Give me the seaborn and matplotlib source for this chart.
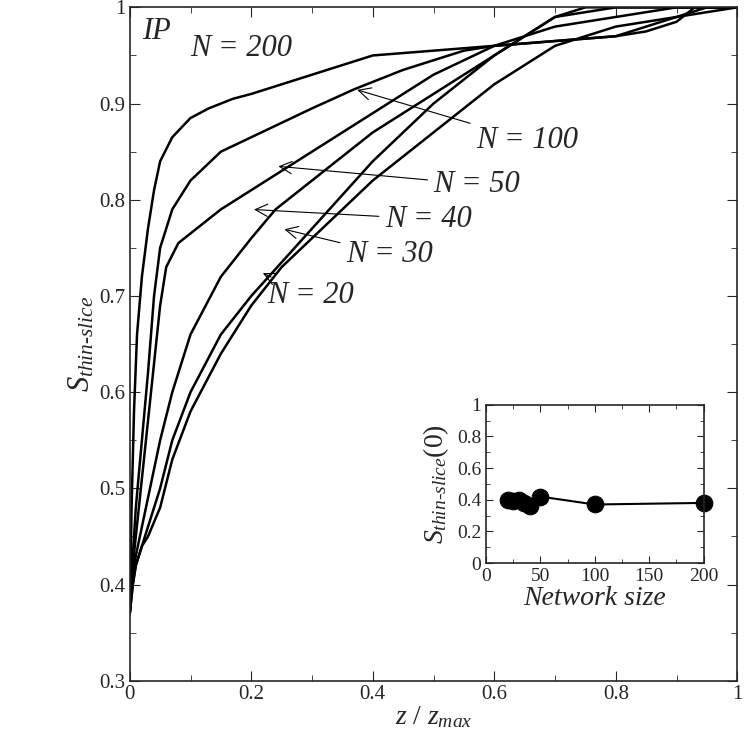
import matplotlib
matplotlib.use("Agg")
import matplotlib.pyplot as plt
import seaborn as sns
from matplotlib.ticker import AutoMinorLocator

# curves: x = z/zmax, y = S_thin-slice
x200 = [0, 0.003, 0.007, 0.012, 0.02, 0.03, 0.04, 0.05, 0.07, 0.1, 0.13, 0.17, 0.2, 0.25, 0.3, 0.35, 0.4, 0.5, 0.6, 0.7, 0.8, 0.85, 0.9, 0.93, 1.0]
y200 = [0.37, 0.48, 0.58, 0.66, 0.72, 0.77, 0.81, 0.84, 0.865, 0.885, 0.895, 0.905, 0.91, 0.92, 0.93, 0.94, 0.95, 0.955, 0.96, 0.965, 0.97, 0.975, 0.985, 1.0, 1.0]
x100 = [0, 0.005, 0.01, 0.02, 0.03, 0.04, 0.05, 0.07, 0.1, 0.15, 0.2, 0.25, 0.3, 0.37, 0.45, 0.5, 0.55, 0.6, 0.7, 0.8, 0.9, 0.95, 1.0]
y100 = [0.37, 0.43, 0.48, 0.55, 0.62, 0.7, 0.75, 0.79, 0.82, 0.85, 0.865, 0.88, 0.895, 0.915, 0.935, 0.945, 0.955, 0.96, 0.965, 0.97, 0.99, 1.0, 1.0]
x50 = [0, 0.005, 0.01, 0.02, 0.03, 0.04, 0.05, 0.06, 0.08, 0.1, 0.15, 0.2, 0.25, 0.3, 0.4, 0.5, 0.6, 0.7, 0.8, 0.9, 1.0]
y50 = [0.37, 0.42, 0.45, 0.51, 0.57, 0.63, 0.69, 0.73, 0.755, 0.765, 0.79, 0.81, 0.83, 0.85, 0.89, 0.93, 0.96, 0.98, 0.99, 1.0, 1.0]
x40 = [0, 0.005, 0.01, 0.02, 0.03, 0.05, 0.07, 0.1, 0.15, 0.2, 0.24, 0.3, 0.4, 0.5, 0.6, 0.7, 0.75, 1.0]
y40 = [0.37, 0.41, 0.43, 0.46, 0.49, 0.55, 0.6, 0.66, 0.72, 0.76, 0.79, 0.82, 0.87, 0.91, 0.95, 0.99, 1.0, 1.0]
x30 = [0, 0.005, 0.01, 0.02, 0.03, 0.05, 0.07, 0.1, 0.15, 0.2, 0.25, 0.3, 0.4, 0.5, 0.6, 0.65, 0.7, 0.8, 1.0]
y30 = [0.37, 0.4, 0.42, 0.44, 0.46, 0.5, 0.55, 0.6, 0.66, 0.7, 0.735, 0.77, 0.84, 0.9, 0.95, 0.97, 0.99, 1.0, 1.0]
x20 = [0, 0.005, 0.01, 0.02, 0.03, 0.05, 0.07, 0.1, 0.15, 0.2, 0.25, 0.3, 0.4, 0.5, 0.6, 0.7, 0.8, 0.9, 1.0]
y20 = [0.37, 0.4, 0.42, 0.44, 0.45, 0.48, 0.53, 0.58, 0.64, 0.69, 0.73, 0.76, 0.82, 0.87, 0.92, 0.96, 0.98, 0.99, 1.0]

# inset
net_size = [20, 25, 30, 35, 40, 50, 100, 200]
s_zero = [0.40, 0.39, 0.40, 0.38, 0.36, 0.42, 0.37, 0.38]

sns.set_style("ticks")
plt.rcParams['font.family'] = ['Liberation Serif', 'DejaVu Serif']
plt.rcParams['mathtext.fontset'] = 'custom'
plt.rcParams['mathtext.it'] = 'Liberation Serif:italic'
plt.rcParams['mathtext.rm'] = 'Liberation Serif'

fig = plt.figure(figsize=(7.5, 7.36), dpi=100)
ax = fig.add_axes([0.173, 0.075, 0.81, 0.915])

for xs, ys in [(x200, y200), (x100, y100), (x50, y50), (x40, y40), (x30, y30), (x20, y20)]:
    sns.lineplot(x=xs, y=ys, ax=ax, color='black', linewidth=1.8, sort=False)

ax.set_xlim(0, 1)
ax.set_ylim(0.3, 1)
ax.set_xticks([0, 0.2, 0.4, 0.6, 0.8, 1])
ax.set_xticklabels(['0', '0.2', '0.4', '0.6', '0.8', '1'])
ax.set_yticks([0.3, 0.4, 0.5, 0.6, 0.7, 0.8, 0.9, 1])
ax.set_yticklabels(['0.3', '0.4', '0.5', '0.6', '0.7', '0.8', '0.9', '1'])
ax.xaxis.set_minor_locator(AutoMinorLocator(2))
ax.yaxis.set_minor_locator(AutoMinorLocator(2))
ax.tick_params(which='both', direction='in', top=True, right=True, labelsize=15, pad=3)
ax.tick_params(which='major', length=7)
ax.tick_params(which='minor', length=4)
for s in ax.spines.values():
    s.set_linewidth(1.2)
ax.set_xlabel(r'$z\ /\ z_{max}$', fontsize=20, labelpad=0)
ax.set_ylabel('$S_{thin\u2010slice}$', fontsize=22, labelpad=2)

tk = dict(fontsize=22, style='italic')
ax.text(0.02, 0.975, 'IP', ha='left', va='center', **tk)
ax.text(0.1, 0.957, 'N = 200', ha='left', va='center', **tk)
arr = dict(arrowstyle='->', color='black', lw=0.8)
for label, xy, xt in [('N = 100', (0.37, 0.915), (0.57, 0.862)),
                      ('N = 50', (0.24, 0.835), (0.5, 0.816)),
                      ('N = 40', (0.2, 0.79), (0.42, 0.78)),
                      ('N = 30', (0.25, 0.77), (0.356, 0.743)),
                      ('N = 20', (0.215, 0.725), (0.227, 0.70))]:
    ax.annotate(label, xy=xy, xytext=xt, ha='left', va='center', arrowprops=arr, **tk)

ins = fig.add_axes([0.648, 0.235, 0.29, 0.215])
sns.lineplot(x=net_size, y=s_zero, ax=ins, color='black', linewidth=1.5,
             marker='o', markersize=12, markeredgecolor='black', clip_on=False)
ins.set_xlim(0, 200)
ins.set_ylim(0, 1)
ins.set_xticks([0, 50, 100, 150, 200])
ins.set_yticks([0, 0.2, 0.4, 0.6, 0.8, 1])
ins.set_yticklabels(['0', '0.2', '0.4', '0.6', '0.8', '1'])
ins.xaxis.set_minor_locator(AutoMinorLocator(2))
ins.yaxis.set_minor_locator(AutoMinorLocator(2))
ins.tick_params(which='both', direction='in', top=True, right=True, labelsize=14)
ins.tick_params(which='major', length=5)
ins.tick_params(which='minor', length=3)
for s in ins.spines.values():
    s.set_linewidth(1.2)
ins.set_xlabel('Network size', fontsize=20, style='italic', labelpad=1)
ins.set_ylabel('$S_{thin\u2010slice}(0)$', fontsize=20)

fig.savefig('out.png', dpi=100)
